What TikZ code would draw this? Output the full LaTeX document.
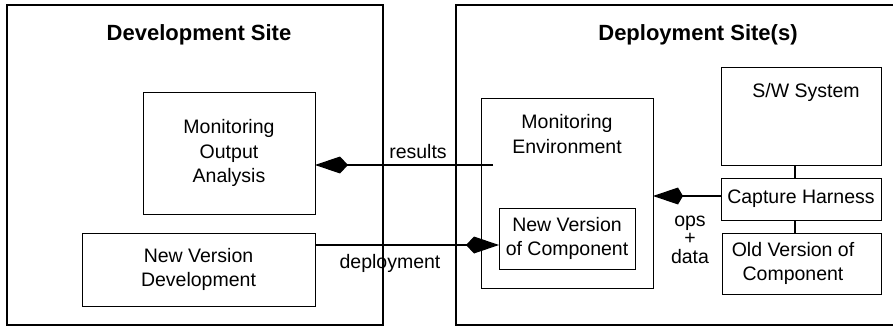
\documentclass[tikz,border=0pt]{standalone}
\usepackage{fontspec}
\setmainfont{Liberation Sans}
\usetikzlibrary{arrows.meta}
\begin{document}
\begin{tikzpicture}[x=1pt,y=-1pt,
  outerbox/.style={draw,line width=2pt,inner sep=0pt,outer sep=0pt},
  innerbox/.style={draw,line width=0.9pt,inner sep=0pt,outer sep=0pt,align=center,
    font=\fontsize{19.5}{24.5}\selectfont},
  txt/.style={inner sep=0pt,align=center,font=\fontsize{19.5}{24.5}\selectfont},
  title/.style={inner sep=0pt,font=\fontsize{22}{26}\selectfont\bfseries},
  conn/.style={line width=2pt},
  kite/.style={line width=2pt,-{Kite[length=33pt,width=17pt,inset=8pt]}}]
\useasboundingbox (0,0) rectangle (893,329);
% sites
\node[outerbox,minimum width=376pt,minimum height=320pt] (dev) at (195,165) {};
\node[outerbox,minimum width=439pt,minimum height=320pt] (dep) at (675.5,165) {};
\node[title] (devt) at (199,35) {Development Site};
\node[title] (dept) at (698,35) {Deployment Site(s)};
% development site boxes
\node[innerbox,minimum width=172pt,minimum height=122pt] (moa) at (229,153) {Monitoring\\Output\\Analysis};
\node[innerbox,minimum width=233pt,minimum height=73pt] (nvd) at (198.5,269.5) {New Version\\Development};
% deployment site boxes
\node[innerbox,minimum width=172pt,minimum height=190pt] (menv) at (567,193) {};
\node[txt] (menvt) at (567,134) {Monitoring\\Environment};
\node[innerbox,minimum width=136pt,minimum height=61pt] (nvc) at (567,238.5) {New Version\\of Component};
\node[innerbox,minimum width=160pt,minimum height=98pt] (sws) at (801,116) {};
\node[txt] (swst) at (806,92) {S/W System};
\node[innerbox,minimum width=160pt,minimum height=42pt] (ch) at (801,199) {Capture Harness};
\node[innerbox,minimum width=159pt,minimum height=61pt] (ovc) at (801.5,263.5) {};
\node[txt] (ovct) at (793,263.5) {Old Version of\\Component};
% vertical links
\coordinate (cx) at (795,0);
\draw[conn] (sws.south -| cx) -- (ch.north -| cx);
\draw[conn] (ch.south -| cx) -- (ovc.north -| cx);
% results
\coordinate (rs) at (493,165);
\draw[kite] (rs) -- (moa.east |- rs);
\node[txt] (rlab) at (418,152) {results};
% deployment
\coordinate (dy) at (0,245);
\draw[kite] (nvd.east |- dy) -- (nvc.west |- dy);
\node[txt] (dlab) at (390,263) {deployment};
% ops + data
\coordinate (oy) at (0,196);
\draw[kite,-{Kite[length=30pt,width=17pt,inset=5pt]}] (ch.west |- oy) -- (menv.east |- oy);
\node[txt,font=\fontsize{19.5}{18.5}\selectfont] (olab) at (690,239.5) {ops\\+\\data};
\end{tikzpicture}
\end{document}
